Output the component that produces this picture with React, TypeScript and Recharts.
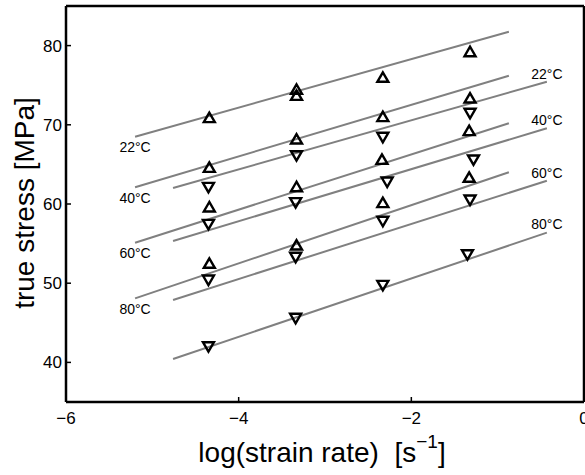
import { ComposedChart, Line, Scatter, XAxis, YAxis, Label } from 'recharts';

const temps = ['22°C', '40°C', '60°C', '80°C'];

// fitted lines, one for the Δ set and one for the ∇ set at each temperature
const upFitX = [-5.2, -0.87];
const downFitX = [-4.76, -0.43];
const upFitY = [
  [68.5, 81.75],
  [62.11, 76.2],
  [55.11, 70.19],
  [48.09, 64.0],
];
const downFitY = [
  [62.02, 75.44],
  [55.33, 69.56],
  [47.88, 62.94],
  [40.43, 56.38],
];

// measured points (Δ)
const upX = [
  [-4.34, -3.33, -3.33, -2.33, -1.32],
  [-4.34, -3.33, -2.33, -1.32],
  [-4.34, -3.33, -2.34, -1.33],
  [-4.34, -3.33, -2.33, -1.33],
];
const upY = [
  [70.9, 74.48, 73.72, 76.0, 79.23],
  [64.63, 68.2, 71.03, 73.38],
  [59.62, 62.18, 65.64, 69.26],
  [52.51, 54.82, 60.17, 63.37],
];

// measured points (∇)
const downX = [
  [-4.35, -3.33, -2.33, -1.32],
  [-4.35, -3.34, -2.28, -1.28],
  [-4.35, -3.34, -2.33, -1.32],
  [-4.35, -3.34, -2.33, -1.35],
];
const downY = [
  [62.1, 66.1, 68.42, 71.45],
  [57.43, 60.17, 62.78, 65.56],
  [50.4, 53.27, 57.82, 60.5],
  [41.98, 45.57, 49.73, 53.6],
];

const xTicks = [-6, -4, -2, 0];
const yTicks = [40, 50, 60, 70, 80];

const FONT = '"Liberation Sans", Arial, Helvetica, sans-serif';
const LINE_GRAY = '#808080';

const toPts = (xs: number[], ys: number[]) => xs.map((x, i) => ({ x, y: ys[i] }));

const upPts = upX.flatMap((xs, i) => toPts(xs, upY[i]));
const downPts = downX.flatMap((xs, i) => toPts(xs, downY[i]));

// temperature tags: left under the start of the Δ lines, right above the end of the ∇ lines
const tagPts = [
  ...temps.map((t, i) => ({ x: upFitX[0], y: upFitY[i][0], text: t, side: 'left' })),
  ...temps.map((t, i) => ({ x: downFitX[1], y: downFitY[i][1], text: t, side: 'right' })),
];

const fmt = (v: number) => String(v).replace('-', '\u2212');

const UpTri = (p: any) => {
  const { cx, cy } = p;
  return (
    <polygon
      points={`${cx},${cy - 5} ${cx - 5.5},${cy + 4.5} ${cx + 5.5},${cy + 4.5}`}
      fill="none"
      stroke="#000"
      strokeWidth={2.4}
    />
  );
};

const DownTri = (p: any) => {
  const { cx, cy } = p;
  return (
    <polygon
      points={`${cx},${cy + 5} ${cx - 5.5},${cy - 4.5} ${cx + 5.5},${cy - 4.5}`}
      fill="none"
      stroke="#000"
      strokeWidth={2.4}
    />
  );
};

const Tag = (p: any) => {
  const { cx, cy, payload } = p;
  const dy = payload.side === 'left' ? 15.3 : -3.2;
  return (
    <text x={cx} y={cy + dy} textAnchor="middle" fontSize={14} fill="#000" fontFamily={FONT}>
      {payload.text}
    </text>
  );
};

const axisLine = { stroke: '#000', strokeWidth: 2.5 };
const tickLine = { stroke: '#000', strokeWidth: 1.5 };
const noTick = () => <g />;

export default function App() {
  return (
    <div style={{ position: 'absolute', left: 0, top: 0, fontFamily: FONT, background: '#fff' }}>
      <ComposedChart width={585} height={475} margin={{ top: 5, right: 0, bottom: 43, left: 6 }}>
        <XAxis
          dataKey="x"
          type="number"
          domain={[-6, 0]}
          ticks={xTicks}
          interval={0}
          height={30}
          axisLine={axisLine}
          tickLine={tickLine}
          tickSize={-5}
          tickMargin={15}
          tick={{ fill: '#000', fontSize: 17, fontFamily: FONT }}
          tickFormatter={fmt}
        >
          <Label
            content={(props: any) => {
              const vb = props.viewBox;
              return (
                <text
                  x={vb.x + vb.width / 2 - 3}
                  y={vb.y + 59.5}
                  textAnchor="middle"
                  fontSize={28}
                  fill="#000"
                  fontFamily={FONT}
                >
                  {'log(strain rate)\u00A0\u00A0[s'}
                  <tspan dy={-13.5} fontSize={19}>
                    {'\u22121'}
                  </tspan>
                  <tspan dy={13.5}>]</tspan>
                </text>
              );
            }}
          />
        </XAxis>
        <XAxis
          xAxisId="top"
          orientation="top"
          type="number"
          domain={[-6, 0]}
          ticks={xTicks}
          interval={0}
          height={1}
          axisLine={axisLine}
          tickLine={tickLine}
          tickSize={-5}
          tick={noTick}
        />
        <YAxis
          type="number"
          domain={[35, 85]}
          ticks={yTicks}
          interval={0}
          width={60}
          axisLine={axisLine}
          tickLine={tickLine}
          tickSize={-5}
          tickMargin={9}
          tick={{ fill: '#000', fontSize: 17, fontFamily: FONT }}
        >
          <Label
            content={(props: any) => {
              const vb = props.viewBox;
              const cx = 34;
              const cy = vb.y + vb.height / 2 - 1;
              return (
                <text
                  x={cx}
                  y={cy}
                  transform={`rotate(-90, ${cx}, ${cy})`}
                  textAnchor="middle"
                  fontSize={28}
                  fill="#000"
                  fontFamily={FONT}
                >
                  true stress [MPa]
                </text>
              );
            }}
          />
        </YAxis>
        <YAxis
          yAxisId="right"
          orientation="right"
          type="number"
          domain={[35, 85]}
          ticks={yTicks}
          interval={0}
          width={1}
          axisLine={axisLine}
          tickLine={tickLine}
          tickSize={-5}
          tick={noTick}
        />

        {temps.map((t, i) => (
          <Line
            key={`up-${t}`}
            data={toPts(upFitX, upFitY[i])}
            dataKey="y"
            stroke={LINE_GRAY}
            strokeWidth={2}
            dot={false}
            activeDot={false}
            isAnimationActive={false}
          />
        ))}
        {temps.map((t, i) => (
          <Line
            key={`down-${t}`}
            data={toPts(downFitX, downFitY[i])}
            dataKey="y"
            stroke={LINE_GRAY}
            strokeWidth={2}
            dot={false}
            activeDot={false}
            isAnimationActive={false}
          />
        ))}

        <Scatter data={upPts} dataKey="y" shape={UpTri} isAnimationActive={false} />
        <Scatter data={downPts} dataKey="y" shape={DownTri} isAnimationActive={false} />
        <Scatter data={tagPts} dataKey="y" shape={Tag} isAnimationActive={false} />
      </ComposedChart>
    </div>
  );
}
